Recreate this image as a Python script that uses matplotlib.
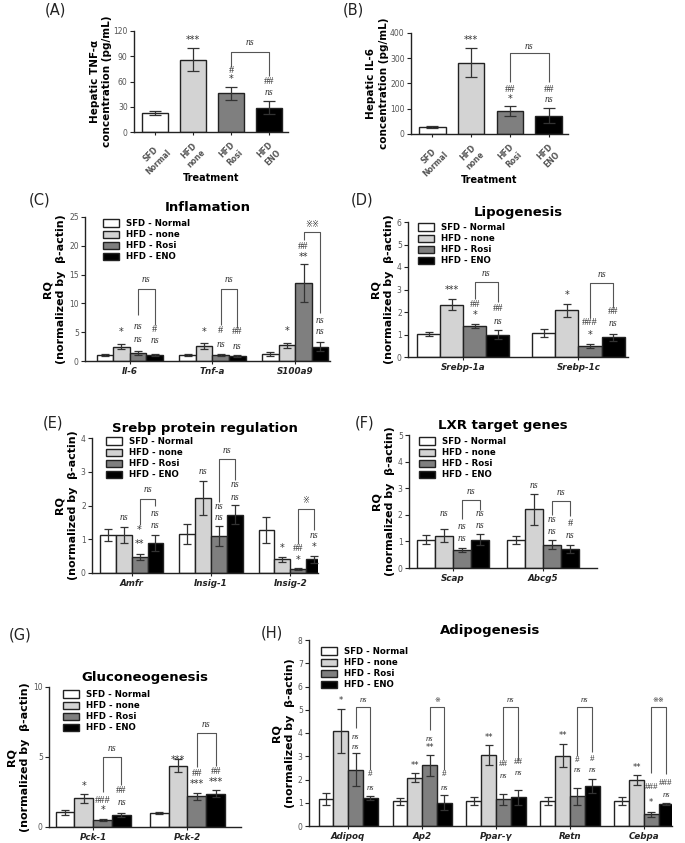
import matplotlib
matplotlib.use('Agg')
import matplotlib.pyplot as plt
import numpy as np

W, H = 685, 843
series = ['SFD - Normal', 'HFD - none', 'HFD - Rosi', 'HFD - ENO']
colors = ['white', '#d3d3d3', '#7f7f7f', 'black']

# ---------------- Panel A ----------------
A_labels = ['SFD\nNormal', 'HFD\nnone', 'HFD\nRosi', 'HFD\nENO']
A_vals = [23, 86, 46, 29]
A_err = [2.5, 14, 8, 8]
A_marks = [(1, 109, '***'), (2, 73.5, '#'), (2, 63, '*'), (3, 60, '##'), (3, 47, 'ns')]
A_bracket = (2, 3, 77, 95, 66, 'ns', 106)

# ---------------- Panel B ----------------
B_labels = ['SFD\nNormal', 'HFD\nnone', 'HFD\nRosi', 'HFD\nENO']
B_vals = [27, 282, 90, 73]
B_err = [4, 57, 20, 29]
B_marks = [(1, 372, '***'), (2, 178, '##'), (2, 138, '*'), (3, 178, '##'), (3, 135, 'ns')]
B_bracket = (2, 3, 206, 321, 206, 'ns', 345)

# ---------------- Panel C ----------------
C_groups = ['Il-6', 'Tnf-a', 'S100a9']
C_vals = [[1.0, 1.0, 1.2], [2.5, 2.6, 2.7], [1.4, 1.1, 13.5], [1.1, 0.9, 2.5]]
C_err = [[0.2, 0.15, 0.4], [0.5, 0.45, 0.45], [0.4, 0.15, 3.3], [0.2, 0.2, 0.75]]
C_marks = [(0, 1, 5.1, '*'), (0, 2, 6.0, 'ns'), (0, 2, 3.8, 'ns'), (0, 3, 5.5, '#'), (0, 3, 3.6, 'ns'),
           (1, 1, 5.1, '*'), (1, 2, 5.3, '#'), (1, 2, 2.9, 'ns'), (1, 3, 5.1, '##'), (1, 3, 2.6, 'ns'),
           (2, 1, 5.2, '*'), (2, 2, 19.8, '##'), (2, 2, 18.1, '**'), (2, 3, 7.1, 'ns'), (2, 3, 5.1, 'ns')]
C_brackets = [(0, 8.0, 12.5, 6.2, 'ns', 14.2), (1, 6.2, 12.5, 5.7, 'ns', 14.2),
              (2, 21.0, 22.4, 8.3, '※※', 23.7)]

# ---------------- Panel D ----------------
D_groups = ['Srebp-1a', 'Srebp-1c']
D_vals = [[1.02, 1.08], [2.33, 2.07], [1.37, 0.5], [1.0, 0.87]]
D_err = [[0.08, 0.18], [0.23, 0.28], [0.1, 0.08], [0.22, 0.17]]
D_marks = [(0, 1, 3.0, '***'), (0, 2, 2.33, '##'), (0, 2, 1.85, '*'), (0, 3, 2.15, '##'), (0, 3, 1.6, 'ns'),
           (1, 1, 2.77, '*'), (1, 2, 1.53, '###'), (1, 2, 0.96, '*'), (1, 3, 2.0, '##'), (1, 3, 1.48, 'ns')]
D_brackets = [(0, 2.6, 3.33, 2.45, 'ns', 3.7), (1, 1.73, 3.3, 2.2, 'ns', 3.66)]

# ---------------- Panel E ----------------
E_groups = ['Amfr', 'Insig-1', 'Insig-2']
E_vals = [[1.12, 1.16, 1.28], [1.13, 2.23, 0.41], [0.48, 1.1, 0.12], [0.9, 1.73, 0.41]]
E_err = [[0.18, 0.3, 0.38], [0.24, 0.5, 0.07], [0.08, 0.3, 0.02], [0.24, 0.28, 0.1]]
E_marks = [(0, 1, 1.63, 'ns'), (0, 2, 1.27, '*'), (0, 2, 0.87, '**'), (0, 3, 1.76, 'ns'), (0, 3, 1.41, 'ns'),
           (1, 1, 3.0, 'ns'), (1, 2, 1.98, 'ns'), (1, 2, 1.63, 'ns'), (1, 3, 2.62, 'ns'), (1, 3, 2.25, 'ns'),
           (2, 1, 0.74, '*'), (2, 2, 0.74, '##'), (2, 2, 0.4, '*'), (2, 3, 1.1, 'ns'), (2, 3, 0.77, '*')]
E_brackets = [(0, 1.41, 2.2, 2.0, 'ns', 2.48), (1, 2.1, 3.37, 2.75, 'ns', 3.62),
              (2, 0.87, 1.89, 1.26, '※', 2.15)]

# ---------------- Panel F ----------------
F_groups = ['Scap', 'Abcg5']
F_vals = [[1.07, 1.05], [1.22, 2.2], [0.68, 0.88], [1.07, 0.72]]
F_err = [[0.17, 0.15], [0.24, 0.57], [0.08, 0.17], [0.2, 0.15]]
F_marks = [(0, 1, 2.04, 'ns'), (0, 2, 1.56, 'ns'), (0, 2, 1.12, 'ns'), (0, 3, 2.04, 'ns'), (0, 3, 1.59, 'ns'),
           (1, 1, 3.12, 'ns'), (1, 2, 1.81, 'ns'), (1, 2, 1.37, 'ns'), (1, 3, 1.69, '#'), (1, 3, 1.22, 'ns')]
F_brackets = [(0, 1.84, 2.56, 2.19, 'ns', 2.87), (1, 2.0, 2.52, 1.94, 'ns', 2.85)]

# ---------------- Panel G ----------------
G_groups = ['Pck-1', 'Pck-2']
G_vals = [[1.05, 1.0], [2.05, 4.38], [0.47, 2.18], [0.85, 2.38]]
G_err = [[0.2, 0.07], [0.3, 0.45], [0.07, 0.22], [0.12, 0.25]]
G_marks = [(0, 1, 2.92, '*'), (0, 2, 1.91, '###'), (0, 2, 1.2, '*'), (0, 3, 2.58, '##'), (0, 3, 1.75, 'ns'),
           (1, 1, 4.78, '***'), (1, 2, 3.83, '##'), (1, 2, 3.04, '***'), (1, 3, 3.95, '##'), (1, 3, 3.23, '***')]
G_brackets = [(0, 2.51, 5.02, 3.0, 'ns', 5.6), (1, 4.3, 6.7, 4.35, 'ns', 7.3)]

# ---------------- Panel H ----------------
H_groups = ['Adipoq', 'Ap2', 'Ppar-γ', 'Retn', 'Cebpa']
H_vals = [[1.15, 1.07, 1.07, 1.07, 1.07], [4.1, 2.08, 3.05, 3.02, 1.98],
          [2.42, 2.62, 1.15, 1.27, 0.5], [1.2, 1.0, 1.23, 1.73, 0.95]]
H_err = [[0.25, 0.15, 0.18, 0.18, 0.17], [0.95, 0.2, 0.42, 0.5, 0.2],
         [0.7, 0.45, 0.23, 0.35, 0.1], [0.1, 0.32, 0.32, 0.3, 0.05]]
H_marks = [(0, 1, 5.39, '*'), (0, 2, 3.84, 'ns'), (0, 2, 3.4, 'ns'), (0, 3, 2.23, '#'), (0, 3, 1.65, 'ns'),
           (1, 1, 2.62, '**'), (1, 2, 3.76, 'ns'), (1, 2, 3.38, '**'), (1, 3, 2.23, '#'), (1, 3, 1.65, 'ns'),
           (2, 1, 3.79, '**'), (2, 2, 2.66, '##'), (2, 2, 2.14, 'ns'), (2, 3, 2.76, '##'), (2, 3, 2.26, 'ns'),
           (3, 1, 3.91, '**'), (3, 2, 2.86, '#'), (3, 2, 2.4, 'ns'), (3, 3, 2.9, '#'), (3, 3, 2.4, 'ns'),
           (4, 1, 2.5, '**'), (4, 2, 1.68, '###'), (4, 2, 1.03, '*'), (4, 3, 1.85, '###'), (4, 3, 1.35, 'ns')]
H_brackets = [(0, 4.2, 5.13, 2.4, 'ns', 5.42), (1, 4.12, 5.13, 2.4, '※', 5.42),
              (2, 2.86, 5.13, 2.86, 'ns', 5.42), (3, 3.02, 5.13, 3.19, 'ns', 5.42),
              (4, 2.26, 5.13, 2.23, '※※', 5.42)]

MARK_COLOR = '#333333'
TICK_COLOR = '#555555'


def px_axes(fig, x0, y0, x1, y1):
    return fig.add_axes([x0 / W, 1 - y1 / H, (x1 - x0) / W, (y1 - y0) / H])


def style_axes(ax):
    for s in ['top', 'right']:
        ax.spines[s].set_visible(False)
    for s in ['left', 'bottom']:
        ax.spines[s].set_linewidth(1.0)
        ax.spines[s].set_color('#222222')
    ax.tick_params(axis='y', labelsize=5.5, labelcolor=TICK_COLOR, length=3, width=0.8, pad=1.5,
                   color='#222222')
    ax.tick_params(axis='x', length=2.5, width=0.8, color='#222222')


def mark(ax, x, y, text, size=7):
    if text == 'ns':
        ax.text(x, y, text, ha='center', va='center', fontsize=size, color=MARK_COLOR,
                family='Liberation Serif', style='italic')
    elif '#' in text:
        ax.text(x, y, text, ha='center', va='center', fontsize=size + 0.5, color=MARK_COLOR,
                family='Liberation Serif')
    elif '※' in text:
        ax.text(x, y, text, ha='center', va='center', fontsize=size - 1, color=MARK_COLOR,
                family=['DejaVu Sans', 'Noto Sans CJK JP'])
    else:
        ax.text(x, y, text, ha='center', va='center', fontsize=size, color=MARK_COLOR,
                family='DejaVu Sans')


def bracket(ax, xl, xr, yl, ytop, yr, label, ly, size=7):
    ax.plot([xl, xl, xr, xr], [yl, ytop, ytop, yr], color='#555555', lw=0.8, solid_capstyle='butt')
    mark(ax, (xl + xr) / 2, ly, label, size)


def simple_panel(ax, labels, vals, err, marks, br, ylim, yticks, ylabel):
    x = np.arange(len(vals))
    ax.bar(x, vals, width=0.68, color=colors, edgecolor='#222222', linewidth=1.0, zorder=2)
    ax.errorbar(x, vals, yerr=err, fmt='none', ecolor='#333333', elinewidth=0.9, capsize=4,
                capthick=0.9, zorder=3)
    ax.set_xlim(-0.55, 3.5)
    ax.set_ylim(*ylim)
    ax.set_yticks(yticks)
    ax.set_xticks(x)
    ax.set_xticklabels(labels, rotation=45, ha='center', va='top',
                       fontsize=5.5, fontweight='bold', color=TICK_COLOR, multialignment='center')
    style_axes(ax)
    ax.set_ylabel(ylabel, fontsize=7.5, fontweight='bold', labelpad=1, linespacing=1.3)
    ax.set_xlabel('Treatment', fontsize=7, fontweight='bold')
    ax.xaxis.set_label_coords(0.5, -0.41)
    for i, y, t in marks:
        mark(ax, x[i], y, t)
    i, j, yl, yt, yr, lab, ly = br
    bracket(ax, x[i], x[j], yl, yt, yr, lab, ly)


def grouped_panel(fig, ax, groups, vals, err, marks, brs, xlim, ylim, yticks, title, leg_xy,
                  msize=7):
    g = np.arange(len(groups))
    w = 0.2
    offs = (np.arange(4) - 1.5) * w
    for s in range(4):
        ax.bar(g + offs[s], vals[s], width=w, color=colors[s], edgecolor='#222222',
               linewidth=1.0, zorder=2, label=series[s])
        ax.errorbar(g + offs[s], vals[s], yerr=err[s], fmt='none', ecolor='#333333',
                    elinewidth=0.9, capsize=3, capthick=0.9, zorder=3)
    ax.set_xlim(*xlim)
    ax.set_ylim(*ylim)
    ax.set_yticks(yticks)
    ax.set_xticks(g)
    ax.set_xticklabels(groups, fontsize=6.3, fontweight='bold', style='italic', color='#222222')
    ax.tick_params(axis='x', pad=1.5)
    style_axes(ax)
    ax.set_ylabel('RQ\n(normalized by  β-actin)', fontsize=8, fontweight='bold',
                  labelpad=2, linespacing=1.5)
    ax.set_title(title, fontsize=9.5, fontweight='bold', pad=4)
    for gi, si, y, t in marks:
        mark(ax, g[gi] + offs[si], y, t, msize)
    for gi, yl, yt, yr, lab, ly in brs:
        bracket(ax, g[gi] + offs[2], g[gi] + offs[3], yl, yt, yr, lab, ly, msize)
    lx, ly = leg_xy
    ax.legend(loc='upper left', bbox_to_anchor=(lx / W, 1 - ly / H), bbox_transform=fig.transFigure,
              frameon=False, prop={'weight': 'bold', 'size': 6.2},
              handlelength=1.9, handleheight=0.9, labelspacing=0.25, borderpad=0,
              borderaxespad=0, handletextpad=0.8)


fig = plt.figure(figsize=(W / 100, H / 100), dpi=100)

axA = px_axes(fig, 134, 31, 288, 132)
simple_panel(axA, A_labels, A_vals, A_err, A_marks, A_bracket, (0, 120), [0, 30, 60, 90, 120],
             'Hepatic TNF-α\nconcentration (pg/mL)')
axB = px_axes(fig, 411, 33, 568, 134)
simple_panel(axB, B_labels, B_vals, B_err, B_marks, B_bracket, (0, 400), [0, 100, 200, 300, 400],
             'Hepatic IL-6\nconcentration (pg/mL)')

axC = px_axes(fig, 85, 217, 330, 361)
grouped_panel(fig, axC, C_groups, C_vals, C_err, C_marks, C_brackets, (-0.54, 2.42), (0, 25),
              [0, 5, 10, 15, 20, 25], 'Inflamation', (103, 219))
axD = px_axes(fig, 408, 222, 628, 357)
grouped_panel(fig, axD, D_groups, D_vals, D_err, D_marks, D_brackets, (-0.48, 1.43), (0, 6),
              range(7), 'Lipogenesis', (418, 223))
axE = px_axes(fig, 92, 438, 318, 573)
grouped_panel(fig, axE, E_groups, E_vals, E_err, E_marks, E_brackets, (-0.5, 2.35), (0, 4),
              range(5), 'Srebp protein regulation', (106, 437))
axF = px_axes(fig, 409, 435, 597, 568)
grouped_panel(fig, axF, F_groups, F_vals, F_err, F_marks, F_brackets, (-0.49, 1.6), (0, 5),
              range(6), 'LXR target genes', (419, 437))
axG = px_axes(fig, 49, 687, 241, 827)
grouped_panel(fig, axG, G_groups, G_vals, G_err, G_marks, G_brackets, (-0.47, 1.57), (0, 10),
              [0, 5, 10], 'Gluconeogenesis', (63, 690))
axH = px_axes(fig, 309, 640, 672, 826)
grouped_panel(fig, axH, H_groups, H_vals, H_err, H_marks, H_brackets, (-0.53, 4.38), (0, 8),
              range(9), 'Adipogenesis', (321, 647), msize=6)

for lab, x, y in [('(A)', 55, 10), ('(B)', 353, 10), ('(C)', 40, 200), ('(D)', 362, 200),
                  ('(E)', 53, 423), ('(F)', 365, 423), ('(G)', 20, 635), ('(H)', 272, 633)]:
    fig.text(x / W, 1 - y / H, lab, fontsize=10.5, ha='center', va='center', color='#222222')

fig.savefig('out.png', dpi=100)
